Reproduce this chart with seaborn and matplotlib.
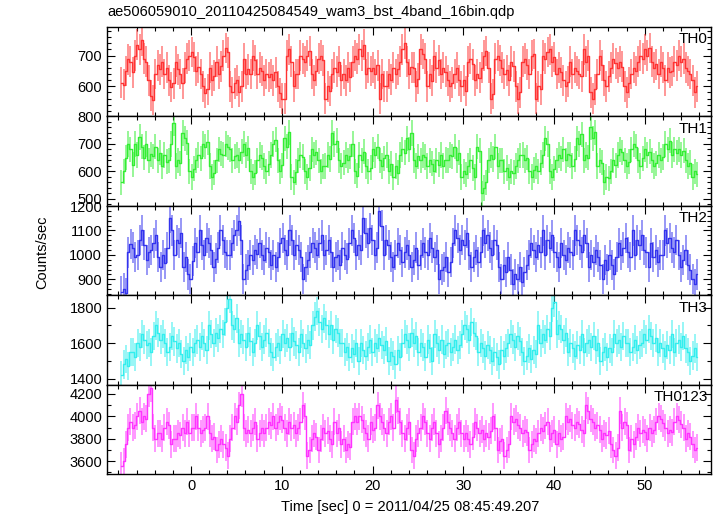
import numpy as np
import matplotlib
matplotlib.use("Agg")
import matplotlib.pyplot as plt
import seaborn as sns
from matplotlib.ticker import MultipleLocator

# ---------------- data ----------------
title = "ae506059010_20110425084549_wam3_bst_4band_16bin.qdp"
x_label = "Time [sec] 0 = 2011/04/25 08:45:49.207"
y_label = "Counts/sec"
band_names = ["TH0", "TH1", "TH2", "TH3", "TH0123"]
t_start, t_stop = -7.8, 55.9

th0 = [612, 605, 650, 688, 680, 645, 700, 735, 720, 750, 690, 680,
       620, 570, 555, 640, 668, 655, 680, 640, 660, 620, 598, 610,
       680, 655, 640, 610, 660, 690, 700, 712, 695, 650, 662, 640,
       600, 578, 590, 660, 620, 635, 680, 640, 665, 700, 725, 710,
       600, 580, 610, 620, 582, 600, 690, 640, 655, 640, 700, 685,
       640, 660, 650, 620, 640, 630, 640, 620, 645, 600, 578, 560,
       560, 700, 720, 680, 600, 640, 640, 700, 690, 680, 700, 715,
       640, 620, 650, 690, 700, 685, 560, 600, 585, 640, 660, 648,
       680, 620, 640, 620, 660, 630, 680, 700, 690, 720, 700, 735,
       640, 660, 650, 660, 640, 668, 560, 640, 600, 600, 640, 622,
       660, 640, 655, 680, 720, 740, 680, 640, 662, 660, 600, 625,
       720, 705, 690, 600, 640, 618, 700, 660, 685, 640, 660, 648,
       620, 600, 612, 640, 660, 620, 600, 620, 585, 680, 690, 672,
       620, 640, 628, 660, 700, 715, 660, 560, 575, 690, 700, 684,
       660, 640, 652, 620, 680, 665, 600, 560, 580, 680, 690, 670,
       640, 700, 705, 560, 600, 590, 700, 690, 712, 720, 680, 695,
       640, 660, 645, 620, 600, 615, 680, 640, 660, 650, 640, 632,
       720, 680, 700, 580, 560, 590, 640, 700, 668, 620, 600, 632,
       660, 690, 675, 660, 680, 664, 600, 580, 612, 640, 660, 650,
       680, 700, 690, 720, 700, 725, 680, 660, 672, 640, 680, 660,
       620, 660, 645, 650, 680, 668, 700, 680, 690, 660, 650, 640,
       620, 580, 600]

th1 = [560, 600, 650, 700, 680, 625, 700, 660, 725, 690, 650, 700,
       640, 662, 655, 690, 640, 668, 620, 660, 635, 640, 700, 775,
       620, 640, 630, 740, 720, 705, 600, 580, 610, 640, 660, 648,
       700, 690, 706, 620, 580, 595, 640, 680, 665, 660, 700, 688,
       680, 640, 655, 660, 640, 672, 700, 660, 684, 600, 580, 596,
       640, 660, 650, 620, 600, 628, 660, 700, 715, 640, 600, 622,
       720, 690, 742, 580, 560, 598, 640, 660, 652, 600, 580, 612,
       680, 660, 670, 640, 600, 618, 620, 660, 645, 740, 700, 712,
       640, 620, 632, 660, 640, 655, 700, 600, 585, 660, 640, 672,
       620, 600, 614, 680, 660, 690, 640, 620, 648, 660, 600, 628,
       580, 620, 596, 660, 680, 668, 720, 680, 740, 640, 620, 655,
       640, 660, 652, 620, 640, 628, 600, 640, 625, 660, 620, 642,
       640, 660, 655, 690, 640, 668, 580, 600, 590, 620, 640, 612,
       580, 690, 675, 520, 540, 560, 640, 660, 645, 690, 620, 640,
       640, 600, 612, 580, 600, 595, 620, 640, 658, 660, 640, 650,
       600, 580, 605, 620, 600, 632, 660, 720, 700, 600, 580, 610,
       640, 660, 648, 680, 640, 662, 660, 620, 645, 720, 700, 735,
       640, 660, 650, 760, 720, 742, 620, 640, 632, 560, 580, 575,
       600, 640, 622, 660, 680, 670, 640, 620, 635, 680, 700, 690,
       640, 620, 648, 680, 660, 672, 640, 620, 630, 660, 640, 652,
       700, 680, 712, 660, 680, 668, 680, 660, 676, 640, 620, 632,
       580, 600, 590]

th2 = [850, 862, 845, 1010, 1045, 1030, 990,
       1000, 1060, 1100, 1040, 980, 1010, 1020,
       1050, 1080, 990, 950, 1000, 965, 1030,
       1150, 1100, 1000, 1060, 1050, 1090,
       950, 990, 920, 900, 975, 1050, 1010,
       1100, 1040, 1000, 1070, 1050, 1020,
       950, 985, 1030, 1100, 1060, 1010, 1000,
       1000, 1050, 1080, 1100, 1140, 1060,
       900, 940, 960, 1000, 980, 1020, 1005,
       1050, 1000, 980, 1030, 1010, 960,
       1000, 950, 990, 1050, 1070, 1020, 1000,
       1100, 1060, 1000, 1040, 1020, 990,
       900, 950, 980, 1010, 1050, 1030, 1000,
       1050, 1080, 1000, 1020, 1060, 1010,
       950, 990, 1000, 960, 1030, 1000, 985,
       1050, 1100, 1070, 1000, 1040, 1020,
       1150, 1090, 1050, 1110, 1060, 1000, 1030,
       1180, 1120, 1000, 1060, 1040, 990,
       950, 1000, 1050, 1020, 970, 1010, 1040,
       1000, 950, 980, 1030, 960, 1000,
       1050, 1010, 1000, 1070, 1030, 990, 1020,
       900, 940, 950, 990, 930, 970,
       1050, 1100, 1070, 1020, 1060, 1040, 1090,
       1000, 950, 990, 1020, 970, 1010,
       1100, 1050, 1080, 1030, 1000, 1060, 1040,
       950, 900, 960, 930, 990, 940,
       880, 920, 900, 950, 890, 930, 960,
       1000, 1050, 1020, 990, 1040, 1010,
       1100, 1000, 1060, 1030, 1080, 1010, 990,
       950, 1050, 1000, 980, 1030, 1010,
       1000, 1100, 1060, 1040, 1010, 1080, 1050,
       950, 1000, 970, 1020, 990, 960,
       900, 980, 940, 1000, 960, 920, 990,
       1050, 1000, 1030, 1070, 1010, 990,
       1100, 1000, 1060, 1040, 1080, 1020, 1010,
       950, 1050, 990, 1020, 970, 1000,
       1000, 1100, 1050, 1070, 1030, 1010, 1060,
       1000, 950, 980, 1020, 960, 940,
       900, 880, 920]

th3 = [1420, 1480, 1510, 1470, 1550,
       1550, 1520, 1600, 1580, 1650, 1620, 1590,
       1600, 1550, 1640, 1700, 1660, 1620,
       1650, 1600, 1550, 1580, 1640, 1610, 1570,
       1600, 1540, 1500, 1560, 1520, 1580,
       1550, 1600, 1620, 1580, 1640, 1600, 1560,
       1700, 1650, 1600, 1660, 1630, 1680,
       1650, 1720, 1800, 1850, 1700, 1680, 1740,
       1600, 1650, 1620, 1580, 1660, 1610,
       1550, 1600, 1700, 1640, 1580, 1620, 1660,
       1600, 1550, 1520, 1580, 1600, 1560,
       1650, 1600, 1630, 1580, 1660, 1610, 1590,
       1550, 1650, 1600, 1570, 1620, 1590,
       1700, 1750, 1780, 1720, 1680, 1740, 1700,
       1650, 1700, 1620, 1680, 1660, 1600,
       1600, 1550, 1580, 1520, 1570, 1540, 1600,
       1500, 1600, 1560, 1530, 1580, 1620,
       1550, 1600, 1570, 1630, 1590, 1560, 1610,
       1500, 1550, 1530, 1480, 1560, 1520,
       1600, 1650, 1620, 1580, 1660, 1600, 1640,
       1550, 1600, 1580, 1520, 1620, 1570,
       1500, 1650, 1600, 1560, 1620, 1540, 1590,
       1600, 1550, 1580, 1620, 1560, 1590,
       1650, 1700, 1680, 1620, 1720, 1660, 1640,
       1550, 1600, 1570, 1530, 1590, 1560,
       1500, 1550, 1520, 1480, 1560, 1530, 1570,
       1600, 1650, 1620, 1580, 1640, 1610,
       1550, 1500, 1530, 1570, 1510, 1560, 1540,
       1700, 1600, 1650, 1620, 1680, 1640,
       1800, 1830, 1650, 1700, 1680, 1620, 1660,
       1550, 1600, 1570, 1530, 1590, 1560,
       1650, 1550, 1600, 1620, 1580, 1640, 1560,
       1600, 1500, 1550, 1580, 1520, 1570,
       1550, 1650, 1600, 1620, 1580, 1640, 1600,
       1600, 1550, 1580, 1620, 1560, 1590,
       1600, 1650, 1620, 1680, 1640, 1600, 1630,
       1550, 1600, 1570, 1530, 1590, 1560,
       1650, 1550, 1600, 1620, 1580, 1640, 1570,
       1550, 1500, 1530, 1570, 1520]

th0123 = [3560, 3600, 3750, 3900, 3950, 3900, 3920, 4000, 4050,
          3950, 4000, 3980, 4200, 4250, 3900, 3800, 3850, 3850, 3800,
          3900, 3950, 3920, 3750, 3800, 3800, 3850, 3830, 3900, 3850,
          3950, 3850, 3900, 3900, 4000, 3900, 3850, 3880, 3900, 4000,
          3850, 3800, 3820, 3700, 3750, 3800, 3750, 3720, 3650, 3800,
          3900, 4000, 3950, 4100, 4200, 3900, 3850, 3880, 3850, 3900,
          3950, 3800, 3850, 3900, 3850, 3900, 3950, 3920, 4000, 3900,
          3950, 4000, 3970, 3900, 3850, 3950, 3900, 3920, 3850, 3900,
          3950, 4100, 4000, 3650, 3700, 3800, 3850, 3820, 3700, 3800,
          3900, 3850, 3870, 3800, 3750, 3950, 3850, 3900, 3750, 3800,
          3700, 3750, 3730, 3950, 4000, 3950, 4000, 3970, 3900, 3850,
          3800, 3950, 3880, 3900, 4100, 4000, 3950,
          3900, 3850, 3950, 4000, 3900, 4150, 4050, 3950, 3850, 3800,
          3900, 3950, 3700, 3650, 3800, 3850, 3900, 4000, 3950, 3850,
          3800, 3900, 3950, 3850, 3750, 3800, 3900, 4050, 3950, 3900,
          3850, 3800, 3900, 3950, 3850, 3800,
          3850, 3800, 3750, 3820, 3950, 3900, 3850, 3880,
          3800, 3850, 3820, 3870, 4000, 3900, 3700, 3780,
          3800, 3650, 3700, 3750, 4000, 3950, 3980, 3920,
          3900, 3850, 3880, 3860, 3700, 3750, 3800, 3780,
          3850, 3900, 3870, 3920, 3950, 3800, 3850, 3880,
          3750, 3850, 3800, 3820, 4000, 3950, 3980, 3920,
          3900, 3950, 3930, 3880, 3850, 4100, 4050, 3980,
          3950, 3900, 3920, 3880, 3800, 3850, 3830, 3870,
          3750, 3700, 3650, 3720, 4050, 3900, 3950, 3920,
          3700, 3800, 3750, 3820, 3900, 3850, 3880, 3860,
          3800, 3900, 3850, 3880, 3950, 4000, 3980, 3940,
          3900, 3850, 3880, 3860, 3950, 4000, 3970, 3930,
          3900, 3800, 3850, 3820, 3750, 3700, 3720]

band_values = [th0, th1, th2, th3, th0123]
band_errors = [50, 46, 62, 80, 120]

# ---------------- style ----------------
colors = ["#ff3333", "#33ee33", "#3333ee", "#33eeee", "#ff33ff"]
ylims = [(502, 793), (475, 800), (835, 1201), (1366, 1871), (3486, 4283)]
ymajor = [100, 100, 100, 200, 200]
yminor = [20, 20, 20, 100, 100]

sns.set_style("ticks")
plt.rcParams["font.family"] = ["Liberation Sans", "DejaVu Sans"]
plt.rcParams["axes.linewidth"] = 1.0

fig = plt.figure(figsize=(7.17, 5.16), dpi=100)
gs = fig.add_gridspec(5, 1, left=107 / 717, right=711 / 717,
                      top=1 - 27 / 516, bottom=1 - 474 / 516, hspace=0)

axes = []
for i, (name, vals, err, col) in enumerate(zip(band_names, band_values,
                                                band_errors, colors)):
    ax = fig.add_subplot(gs[i])
    axes.append(ax)
    n = len(vals)
    w = (t_stop - t_start) / n
    times = t_start + (np.arange(n) + 0.5) * w
    vals = np.asarray(vals, dtype=float)
    ax.errorbar(times, vals, yerr=err, fmt="none", ecolor=col,
                elinewidth=1.3, alpha=0.55, capsize=0, zorder=2)
    sns.lineplot(x=times, y=vals, drawstyle="steps-mid", color=col,
                 lw=1.0, ax=ax, estimator=None, sort=False, zorder=3)
    ax.set_xlim(-9.26, 57.3)
    ax.set_ylim(*ylims[i])
    ax.xaxis.set_major_locator(MultipleLocator(10))
    ax.xaxis.set_minor_locator(MultipleLocator(2))
    ax.yaxis.set_major_locator(MultipleLocator(ymajor[i]))
    ax.yaxis.set_minor_locator(MultipleLocator(yminor[i]))
    ax.tick_params(which="both", direction="in", top=True, right=True,
                   labelsize=10.5, colors="black", width=0.8)
    ax.tick_params(which="major", length=6)
    ax.tick_params(which="minor", length=3)
    ax.tick_params(axis="x", labelbottom=(i == len(band_names) - 1))
    ax.set_xlabel("")
    ax.set_ylabel("")
    for s in ax.spines.values():
        s.set_color("black")
        s.set_linewidth(1.0)
    ax.text(0.995, 0.94, name, transform=ax.transAxes, ha="right",
            va="top", fontsize=11, color="black")

fig.text(107 / 717, 1 - 12 / 516, title, ha="left", va="center",
         fontsize=10.5, color="black")
fig.text(42 / 717, 1 - 252 / 516, y_label, rotation=90, ha="center",
         va="center", fontsize=10.5, color="black")
fig.text(410 / 717, 1 - 507 / 516, x_label, ha="center", va="center",
         fontsize=10.5, color="black")

fig.savefig("out.png", dpi=100, facecolor="white")
